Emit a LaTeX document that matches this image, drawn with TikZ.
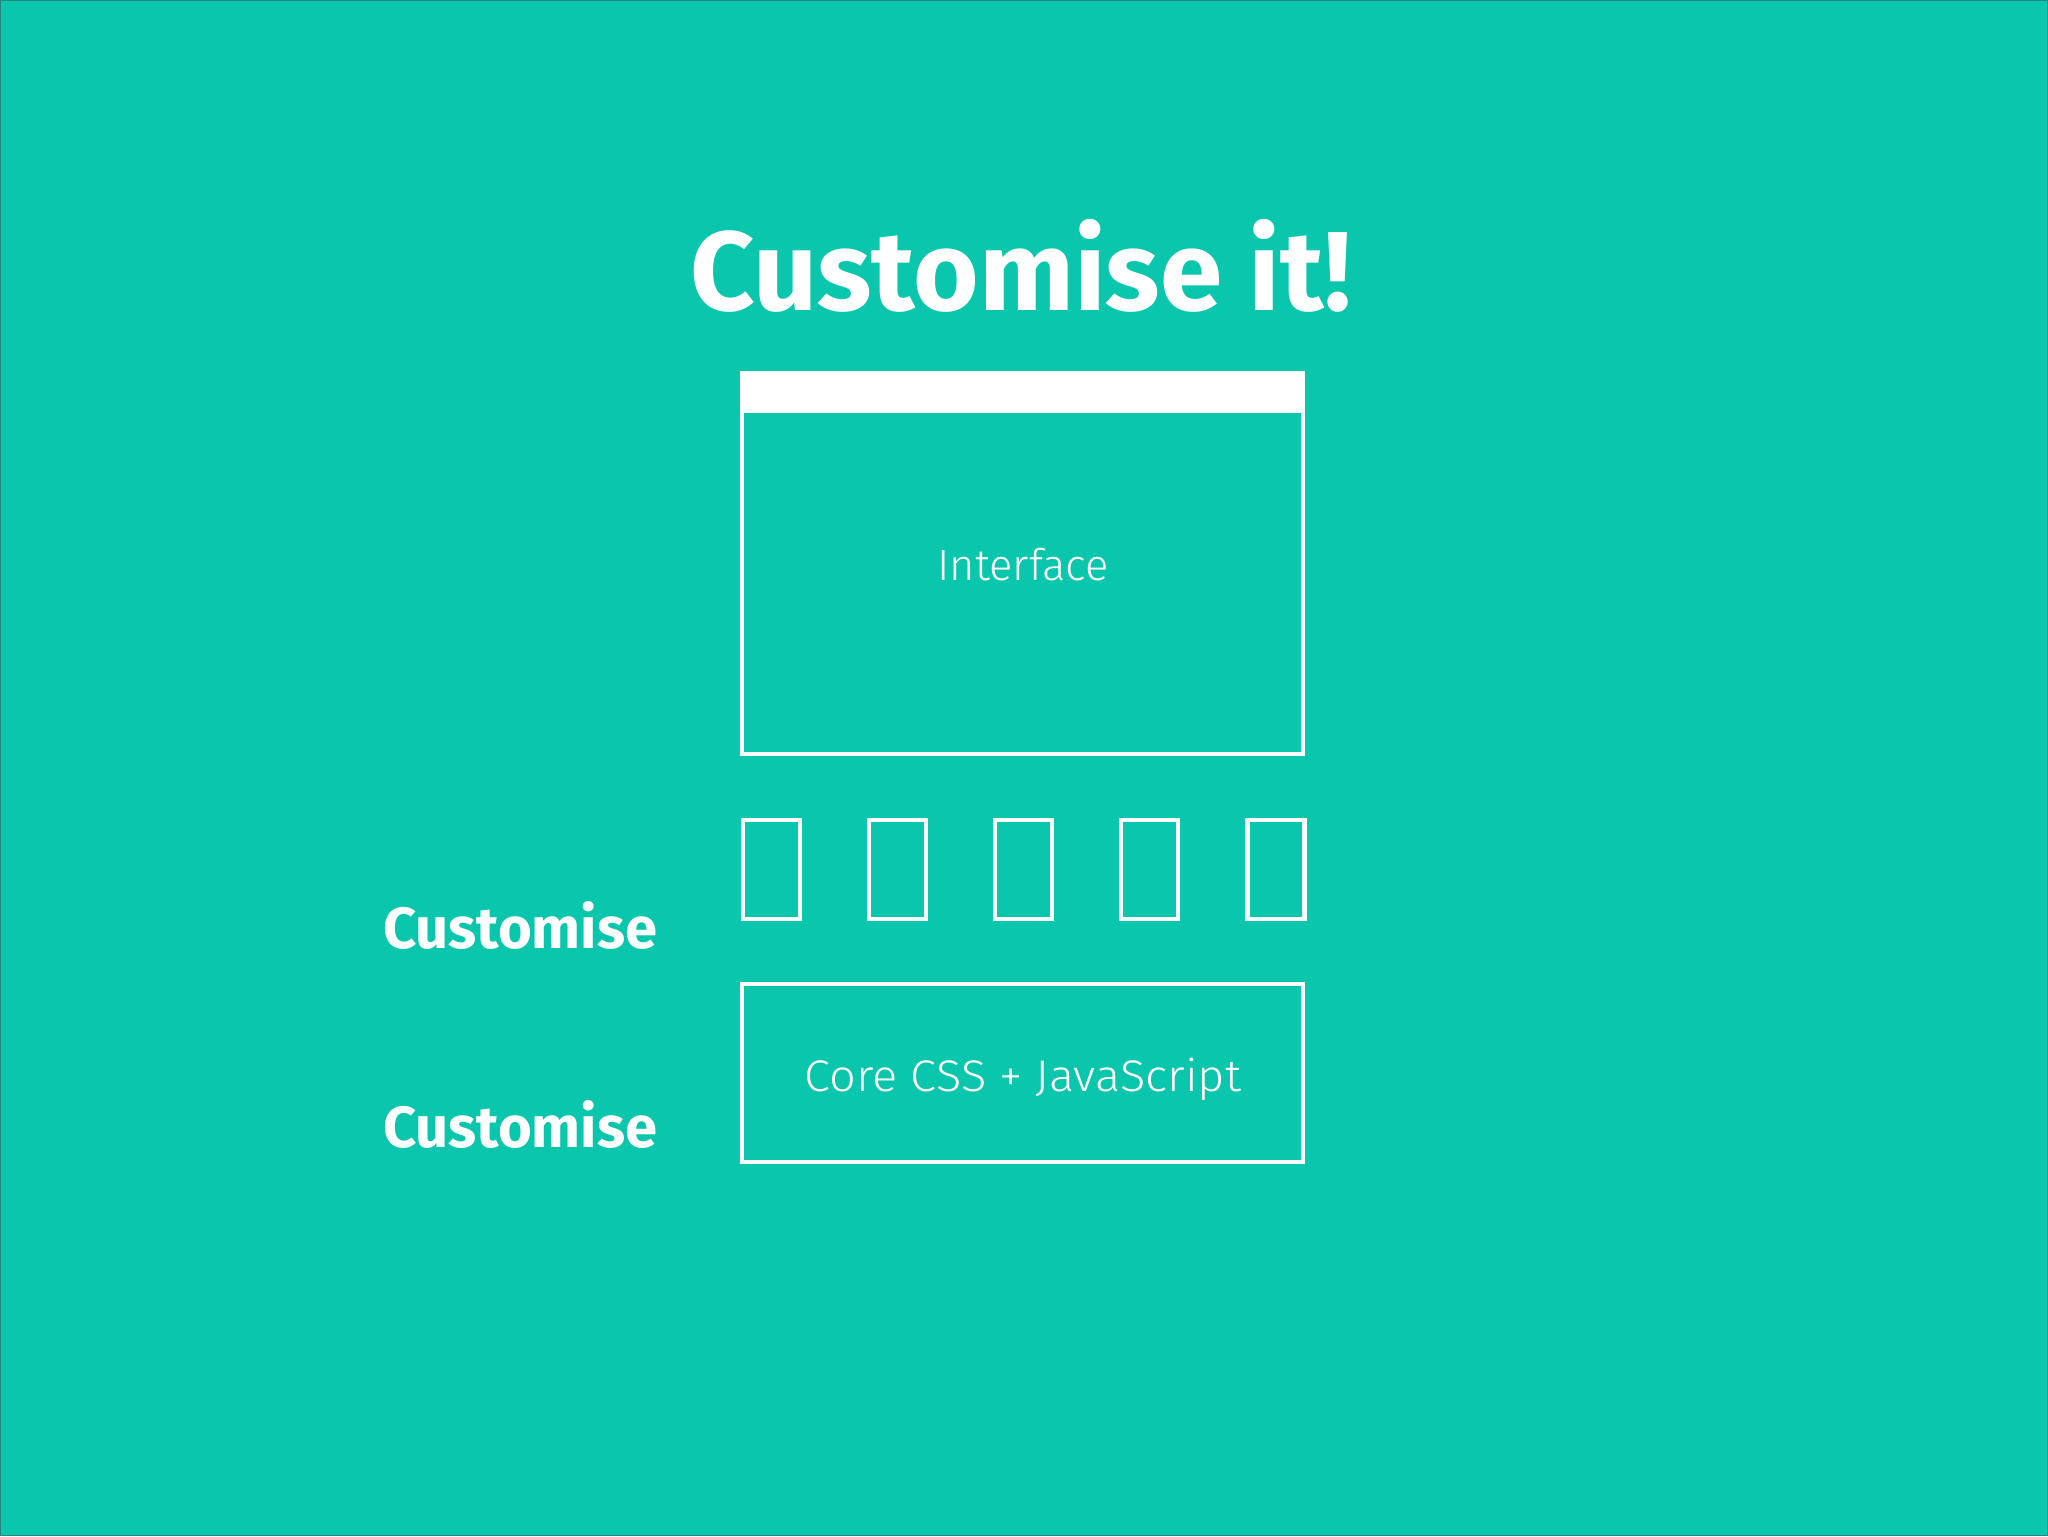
\documentclass[tikz,border=0pt]{standalone}
\usepackage{fontspec}
\setmainfont{Fira Sans}[UprightFont=* Light, BoldFont=* Bold]
\definecolor{slidebg}{RGB}{9,198,172}
\definecolor{slideedge}{RGB}{38,134,122}
\tikzset{
  outline/.style={draw=white, line width=1.2pt, inner sep=0pt},
  bigword/.style={text=white, inner sep=0pt, anchor=base west},
  thinword/.style={text=white, inner sep=0pt, anchor=base},
}
\begin{document}
\begin{tikzpicture}[x=0.01cm,y=-0.01cm]
\filldraw[fill=slidebg, draw=slideedge, line width=0.4pt] (0,0) rectangle (2048,1536);
\node[bigword, anchor=base, font=\fontsize{32}{36}\selectfont\bfseries] (title) at (1021,310) {Customise it!};
% window with its bar
\node[outline, minimum width=5.61cm, minimum height=3.81cm] (iface) at (1022.5,563.5) {};
\fill[white] (iface.north west) rectangle ([yshift=-0.42cm]iface.north east);
\node[thinword, font=\fontsize{12.4}{14}\selectfont] (ifacetext) at (1023,580) {Interface};
% five blocks
\foreach \i in {1,...,5}
  \node[outline, minimum width=0.57cm, minimum height=0.99cm] (blk\i) at (771+126.3*\i-126.3,869.5) {};
\node[outline, minimum width=5.61cm, minimum height=1.78cm] (core) at (1022.5,1073) {};
\node[thinword, xscale=1.06, font=\fontsize{12.6}{14}\selectfont] (coretext) at (1023,1092) {Core CSS + JavaScript};
\node[bigword, font=\fontsize{16.5}{18}\selectfont\bfseries] (custA) at (382,948) {Customise};
\node[bigword, font=\fontsize{16.5}{18}\selectfont\bfseries] (custB) at (382,1148) {Customise};
\end{tikzpicture}
\end{document}
